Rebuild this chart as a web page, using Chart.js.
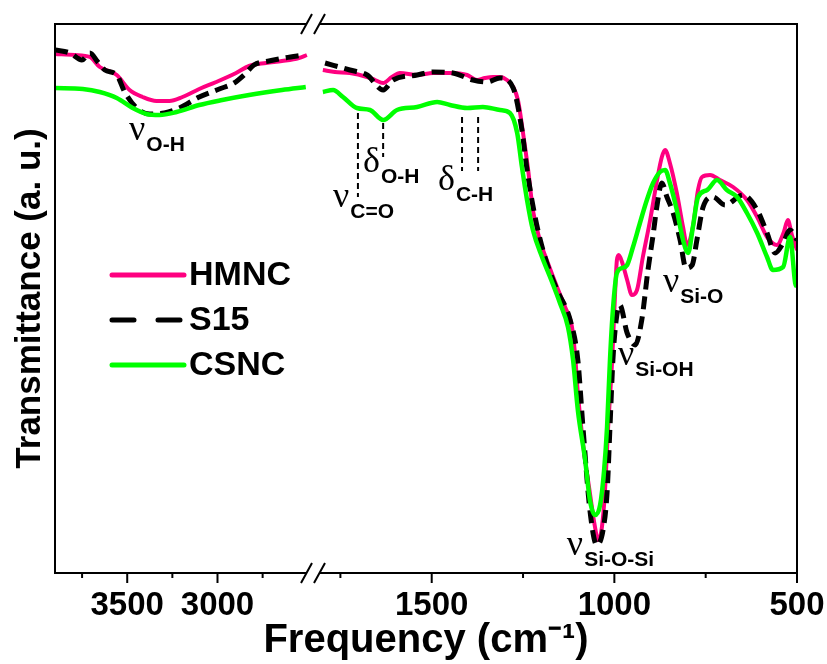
<!DOCTYPE html>
<html><head><meta charset="utf-8">
<script src="https://cdn.jsdelivr.net/npm/chart.js@4.4.1/dist/chart.umd.min.js"></script>
<style>html,body{margin:0;padding:0;background:#fff}#wrap{width:827px;height:664px}</style>
</head><body><div id="wrap"><canvas id="c" width="827" height="664"></canvas></div>
<script>
// ---- data (wavenumber cm-1, transmittance a.u.) ----
const seriesNames = ['HMNC', 'S15', 'CSNC'];

// high-frequency segment (3900 - 2500 cm-1)
const hmncHigh = [[3900,519],[3790,518],[3707,516],[3652,506],[3558,498],[3487,483],[3415,476],[3338,472],[3266,472],[3194,476],[3101,484],[3007,491],[2897,500],[2825,507],[2731,510],[2643,512],[2549,515],[2505,518]];
const s15High = [[3900,523],[3817,520],[3751,513],[3707,520],[3663,511],[3624,503],[3558,498],[3514,481],[3448,465],[3376,459],[3294,460],[3211,465],[3101,476],[2990,484],[2908,490],[2853,498],[2798,508],[2715,512],[2632,515],[2522,518]];
const csncHigh = [[3900,485],[3746,484],[3652,481],[3558,475],[3470,465],[3393,459],[3321,458],[3227,461],[3101,468],[2974,473],[2825,478],[2643,483],[2511,486]];

// low-frequency segment (1800 - 500 cm-1)
const hmncLow = [[1798,503],[1765,501],[1724,500],[1677,496],[1655,493],[1633,490],[1609,496],[1587,500],[1540,498],[1496,500],[1450,500],[1403,498],[1376,493],[1354,495],[1332,496],[1313,496],[1294,493],[1277,486],[1264,473],[1250,440],[1236,403],[1223,363],[1204,333],[1182,310],[1157,286],[1135,266],[1116,246],[1108,220],[1100,180],[1086,130],[1067,80],[1053,46],[1045,33],[1034,46],[1026,80],[1017,146],[1006,213],[998,280],[993,313],[988,318],[979,311],[965,293],[952,278],[938,283],[922,316],[902,353],[883,393],[870,416],[861,423],[848,410],[829,380],[812,346],[801,328],[785,346],[771,383],[760,396],[738,398],[711,393],[675,386],[637,373],[609,356],[582,336],[555,328],[536,341],[525,353],[514,338],[500,323]];
const s15Low = [[1792,510],[1724,503],[1677,498],[1633,483],[1606,493],[1540,498],[1496,501],[1442,500],[1387,493],[1349,491],[1313,495],[1277,485],[1253,443],[1239,403],[1217,356],[1190,316],[1157,283],[1121,253],[1100,213],[1086,146],[1067,63],[1048,28],[1031,43],[1020,80],[1012,146],[1004,213],[995,253],[985,268],[965,240],[943,228],[925,253],[908,303],[894,338],[883,368],[870,390],[856,376],[839,360],[820,333],[804,305],[787,308],[774,333],[757,366],[730,376],[697,368],[648,378],[609,363],[582,340],[560,320],[538,330],[519,343],[500,333]];
const csncLow = [[1798,481],[1770,483],[1743,476],[1705,465],[1669,463],[1633,453],[1595,463],[1540,466],[1485,471],[1450,468],[1403,465],[1360,466],[1313,463],[1286,460],[1266,440],[1253,406],[1239,373],[1223,343],[1198,316],[1176,296],[1149,270],[1127,246],[1113,213],[1100,163],[1080,113],[1067,73],[1053,58],[1039,68],[1028,103],[1020,146],[1012,213],[1004,263],[993,300],[979,305],[965,308],[949,326],[930,350],[911,373],[894,390],[875,401],[861,403],[848,390],[829,363],[812,333],[798,320],[785,346],[771,376],[746,383],[719,393],[692,383],[664,376],[637,360],[609,340],[582,316],[566,303],[538,306],[519,336],[505,290],[500,286]];

// axis ticks
const highMajorTicks = [3500, 3000];
const highMinorTicks = [3750, 3250, 2750];
const lowMajorTicks = [1500, 1000, 500];
const lowMinorTicks = [1750, 1250, 750];
const highRange = [2471, 3900];
const lowRange = [500, 1825];

// band assignments: [axis, wavenumber, transmittance, symbol, subscript]
const bandLabels = [
  ['xL', 3490, 433, 'ν', 'O-H'],
  ['xR', 1770, 366, 'ν', 'C=O'],
  ['xR', 1688, 401, 'δ', 'O-H'],
  ['xR', 1483, 383, 'δ', 'C-H'],
  ['xR', 990, 208, 'ν', 'Si-OH'],
  ['xR', 867, 281, 'ν', 'Si-O'],
  ['xR', 1130, 18, 'ν', 'Si-O-Si']
];
// dashed marker lines: [wavenumber, from T, to T]
const bandMarkers = [[1702, 460, 376], [1633, 450, 416], [1417, 456, 402], [1373, 456, 402]];

// ---- styling ----
const SANS = "'Liberation Sans', Arial, sans-serif";
const colors = { HMNC: '#FF0080', S15: '#000000', CSNC: '#00FF00' };
const widths = { HMNC: 4, S15: 5, CSNC: 4.5 };
const dashes = { HMNC: [], S15: [13, 7], CSNC: [] };
const orders = { HMNC: 2, S15: 1, CSNC: 0 };

function toPts(arr) { return arr.map(p => ({ x: p[0], y: p[1] })); }
function mk(name, arr, axis, showLabel) {
  return {
    label: showLabel ? name : name + '_',
    data: toPts(arr),
    xAxisID: axis,
    yAxisID: 'y',
    borderColor: colors[name],
    borderWidth: widths[name],
    borderDash: dashes[name],
    pointRadius: 0,
    fill: false,
    cubicInterpolationMode: 'monotone',
    order: orders[name]
  };
}

const datasets = [
  mk('HMNC', hmncHigh, 'xL', true), mk('S15', s15High, 'xL', true), mk('CSNC', csncHigh, 'xL', true),
  mk('HMNC', hmncLow, 'xR', false), mk('S15', s15Low, 'xR', false), mk('CSNC', csncLow, 'xR', false)
];

const frameAndBreak = {
  id: 'frameAndBreak',
  afterDatasetsDraw(chart) {
    const { ctx, chartArea: a, scales } = chart;
    ctx.save();
    ctx.strokeStyle = '#000';
    ctx.lineWidth = 2;
    ctx.setLineDash([]);
    ctx.strokeRect(a.left, a.top, a.right - a.left, a.bottom - a.top);
    const tick = (scale, vals, len) => vals.forEach(v => {
      const x = scale.getPixelForValue(v);
      ctx.beginPath(); ctx.moveTo(x, a.bottom); ctx.lineTo(x, a.bottom + len); ctx.stroke();
    });
    tick(scales.xL, highMajorTicks, 10); tick(scales.xL, highMinorTicks, 5);
    tick(scales.xR, lowMajorTicks, 10); tick(scales.xR, lowMinorTicks, 5);
    const xb = scales.xL.right;
    [a.top, a.bottom].forEach(y => {
      ctx.fillStyle = '#fff';
      ctx.fillRect(xb - 6.5, y - 2, 13, 4);
      ctx.beginPath();
      [-6.5, 6.5].forEach(d => { ctx.moveTo(xb + d - 5.5, y + 10); ctx.lineTo(xb + d + 5.5, y - 10); });
      ctx.stroke();
    });
    ctx.restore();
  }
};

const bandPlugin = {
  id: 'bands',
  afterDatasetsDraw(chart) {
    const { ctx, scales } = chart;
    const y = scales.y;
    ctx.save();
    ctx.strokeStyle = '#000';
    ctx.lineWidth = 2;
    ctx.setLineDash([6, 4]);
    bandMarkers.forEach(m => {
      const x = scales.xR.getPixelForValue(m[0]);
      ctx.beginPath(); ctx.moveTo(x, y.getPixelForValue(m[1])); ctx.lineTo(x, y.getPixelForValue(m[2])); ctx.stroke();
    });
    ctx.setLineDash([]);
    ctx.fillStyle = '#000';
    ctx.textBaseline = 'alphabetic';
    ctx.textAlign = 'left';
    bandLabels.forEach(b => {
      const x = scales[b[0]].getPixelForValue(b[1]);
      const yy = y.getPixelForValue(b[2]);
      ctx.font = "36px 'Liberation Serif', 'DejaVu Serif', serif";
      ctx.fillText(b[3], x, yy);
      const w = ctx.measureText(b[3]).width;
      ctx.font = 'bold 21px ' + SANS;
      ctx.fillText(b[4], x + w + 1, yy + 11);
    });
    ctx.restore();
  }
};

const keyPlugin = {
  id: 'keyBox',
  afterDraw(chart) {
    const { ctx, chartArea: a } = chart;
    ctx.save();
    seriesNames.forEach((name, i) => {
      const ds = chart.data.datasets.find(d => d.label === name);
      const y = a.top + 251 + i * 45;
      ctx.strokeStyle = ds.borderColor;
      ctx.lineWidth = 5;
      ctx.lineCap = 'round';
      ctx.setLineDash(name === 'S15' ? [22, 24] : []);
      ctx.beginPath(); ctx.moveTo(a.left + 57, y); ctx.lineTo(a.left + 129, y); ctx.stroke();
      ctx.setLineDash([]);
      ctx.fillStyle = '#000';
      ctx.font = 'bold 34px ' + SANS;
      ctx.textBaseline = 'middle';
      ctx.textAlign = 'left';
      ctx.fillText(name, a.left + 134, y + 1);
    });
    ctx.restore();
  }
};

const tickFont = { family: SANS, size: 33, weight: 'bold' };
function xAxis(range, majors, weight) {
  return {
    type: 'linear', position: 'bottom', stack: 'freq', stackWeight: weight,
    min: range[0], max: range[1], reverse: true, offset: false,
    grid: { display: false, drawTicks: false }, border: { display: false },
    afterBuildTicks(s) { s.ticks = majors.map(v => ({ value: v })); },
    ticks: { autoSkip: false, maxRotation: 0, minRotation: 0, padding: 12.8, color: '#000', font: tickFont, callback: v => String(v) },
    afterFit(s) { s.height = 44.2; s.paddingLeft = 0; s.paddingRight = 0; }
  };
}

new Chart(document.getElementById('c'), {
  type: 'line',
  data: { datasets },
  options: {
    responsive: false,
    devicePixelRatio: 1,
    animation: false,
    layout: { padding: { left: 0, right: 30, top: 24, bottom: 0 } },
    scales: {
      xL: xAxis(highRange, highMajorTicks, 258),
      xR: xAxis(lowRange, lowMajorTicks, 484),
      y: {
        type: 'linear', position: 'left', min: 0, max: 549,
        grid: { display: false, drawTicks: false }, border: { display: false },
        ticks: { display: false },
        title: { display: true, text: 'Transmittance (a. u.)', color: '#000', font: { family: SANS, size: 35, weight: 'bold' }, padding: { top: 9, bottom: 0 } },
        afterFit(s) { s.width = 55; s.paddingTop = 0; s.paddingBottom = 0; }
      }
    },
    plugins: {
      legend: { display: false },
      tooltip: { enabled: false },
      title: {
        display: true, position: 'bottom', fullSize: false,
        text: 'Frequency (cm⁻¹)', color: '#000',
        font: { family: SANS, size: 40, weight: 'bold', lineHeight: 1.17 },
        padding: 0
      }
    }
  },
  plugins: [frameAndBreak, bandPlugin, keyPlugin]
});
</script>
</body></html>
